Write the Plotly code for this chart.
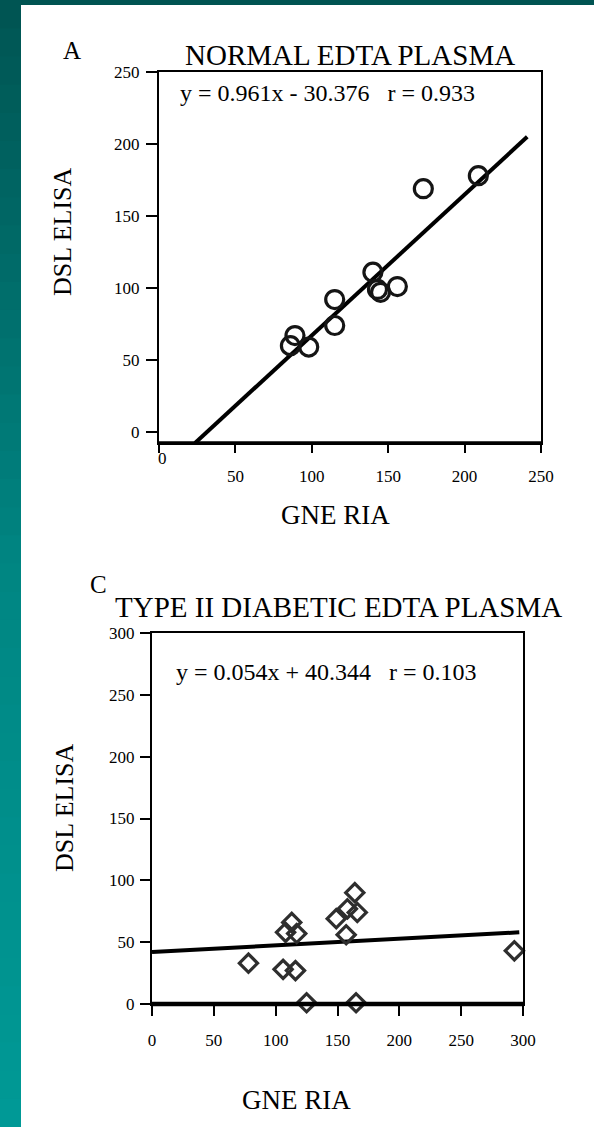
import plotly.graph_objects as go

W, H = 594, 1127

# ---- Panel A: Normal EDTA plasma ----
a_gne = [86, 89, 98, 115, 115, 140, 143, 145, 156, 173, 209]
a_dsl = [60, 67, 59, 92, 74, 111, 99, 97, 101, 169, 178]
a_fit_x = [23.6, 241]
a_fit_y = [-7.6, 205]
a_xticks = [0, 50, 100, 150, 200, 250]
a_yticks = [0, 50, 100, 150, 200, 250]

# ---- Panel C: Type II diabetic EDTA plasma ----
c_gne = [78, 106, 116, 108, 113, 117, 125, 149, 158, 157, 164, 166, 165, 293]
c_dsl = [33, 28, 27, 58, 66, 57, 1, 69, 77, 56, 90, 74, 1, 43]
c_fit_x = [0, 297]
c_fit_y = [42, 58]
c_xticks = [0, 50, 100, 150, 200, 250, 300]
c_yticks = [0, 50, 100, 150, 200, 250, 300]

FONT = "Liberation Serif, Times New Roman, serif"

def px(x):
    return x / W

def py(y):
    return 1 - y / H

fig = go.Figure()

fig.add_trace(go.Scatter(x=a_fit_x, y=a_fit_y, mode="lines",
                         line=dict(color="black", width=4),
                         xaxis="x", yaxis="y", showlegend=False, hoverinfo="skip"))
fig.add_trace(go.Scatter(x=a_gne, y=a_dsl, mode="markers",
                         marker=dict(symbol="circle-open", size=18, color="#151515",
                                     line=dict(width=3.2, color="#151515")),
                         xaxis="x", yaxis="y", showlegend=False, cliponaxis=False))

fig.add_trace(go.Scatter(x=c_fit_x, y=c_fit_y, mode="lines",
                         line=dict(color="black", width=4),
                         xaxis="x2", yaxis="y2", showlegend=False, hoverinfo="skip"))
fig.add_trace(go.Scatter(x=c_gne, y=c_dsl, mode="markers",
                         marker=dict(symbol="diamond-open", size=14, color="#2e2e2e",
                                     line=dict(width=3.2, color="#2e2e2e")),
                         xaxis="x2", yaxis="y2", showlegend=False, cliponaxis=False))

def axis_common(ticklen):
    return dict(showline=True, linecolor="black", linewidth=2, mirror=True,
                showgrid=False, zeroline=False, ticks="outside", ticklen=ticklen,
                tickwidth=1.8, tickcolor="black", automargin=False,
                tickfont=dict(family=FONT, size=17, color="black"))

a_xtext = ["" if v == 0 else str(v) for v in a_xticks]

fig.update_layout(
    width=W, height=H,
    margin=dict(l=0, r=0, t=0, b=0),
    paper_bgcolor="white", plot_bgcolor="white",
    xaxis=dict(domain=[px(159), px(541)], range=[0, 250], anchor="y",
               tickvals=a_xticks, ticktext=a_xtext, ticklabelstandoff=9, **axis_common(8)),
    yaxis=dict(domain=[py(443), py(72)], range=[-7.6, 250], anchor="x",
               tickvals=a_yticks, ticklabelstandoff=3, **axis_common(11)),
    xaxis2=dict(domain=[px(152), px(523)], range=[0, 300], anchor="y2",
                tickvals=c_xticks, ticklabelstandoff=10, **axis_common(10)),
    yaxis2=dict(domain=[py(1004), py(633)], range=[0, 300], anchor="x2",
                tickvals=c_yticks, ticklabelstandoff=2, **axis_common(10)),
)

# background: dark teal top band and gradient left strip
shapes = []
shapes.append(dict(type="rect", xref="paper", yref="paper", x0=0, x1=1,
                   y0=py(5), y1=1, fillcolor="#005452", line=dict(width=0), layer="below"))
n = 40
top = (0, 84, 82)
mid = (0, 133, 130)
bot = (0, 154, 150)
for i in range(n):
    t = (i + 0.5) / n
    if t < 0.5:
        f = t / 0.5
        c = [round(top[k] + (mid[k] - top[k]) * f) for k in range(3)]
    else:
        f = (t - 0.5) / 0.5
        c = [round(mid[k] + (bot[k] - mid[k]) * f) for k in range(3)]
    y0 = H * i / n
    y1 = H * (i + 1) / n + 1
    shapes.append(dict(type="rect", xref="paper", yref="paper", x0=0, x1=px(21),
                       y0=py(min(y1, H)), y1=py(y0), fillcolor="rgb(%d,%d,%d)" % tuple(c),
                       line=dict(width=0), layer="below"))
# thick bottom axis lines
shapes.append(dict(type="line", xref="x domain", yref="y domain", x0=0, x1=1, y0=0, y1=0,
                   line=dict(color="black", width=3.5)))
shapes.append(dict(type="line", xref="x2 domain", yref="y2 domain", x0=0, x1=1, y0=0, y1=0,
                   line=dict(color="black", width=4.5)))
fig.update_layout(shapes=shapes)

def ann(text, x, y, size, angle=0):
    return dict(text=text, x=px(x), y=py(y), xref="paper", yref="paper",
                xanchor="center", yanchor="middle", showarrow=False, textangle=angle,
                font=dict(family=FONT, size=size, color="black"))

annotations = [
    ann("A", 72, 50, 25),
    ann("NORMAL EDTA PLASMA", 350, 55, 29),
    ann("y = 0.961x - 30.376   r = 0.933", 327, 93, 24),
    ann("0", 162, 458, 17),
    ann("GNE RIA", 335, 515, 27),
    ann("DSL ELISA", 62, 232, 26, -90),
    ann("C", 98, 584, 25),
    ann("TYPE II DIABETIC EDTA PLASMA", 338, 607, 29),
    ann("y = 0.054x + 40.344   r = 0.103", 326, 672, 24),
    ann("GNE RIA", 296, 1100, 27),
    ann("DSL ELISA", 64, 808, 26, -90),
]
fig.update_layout(annotations=annotations)

fig.write_html("out.html")
